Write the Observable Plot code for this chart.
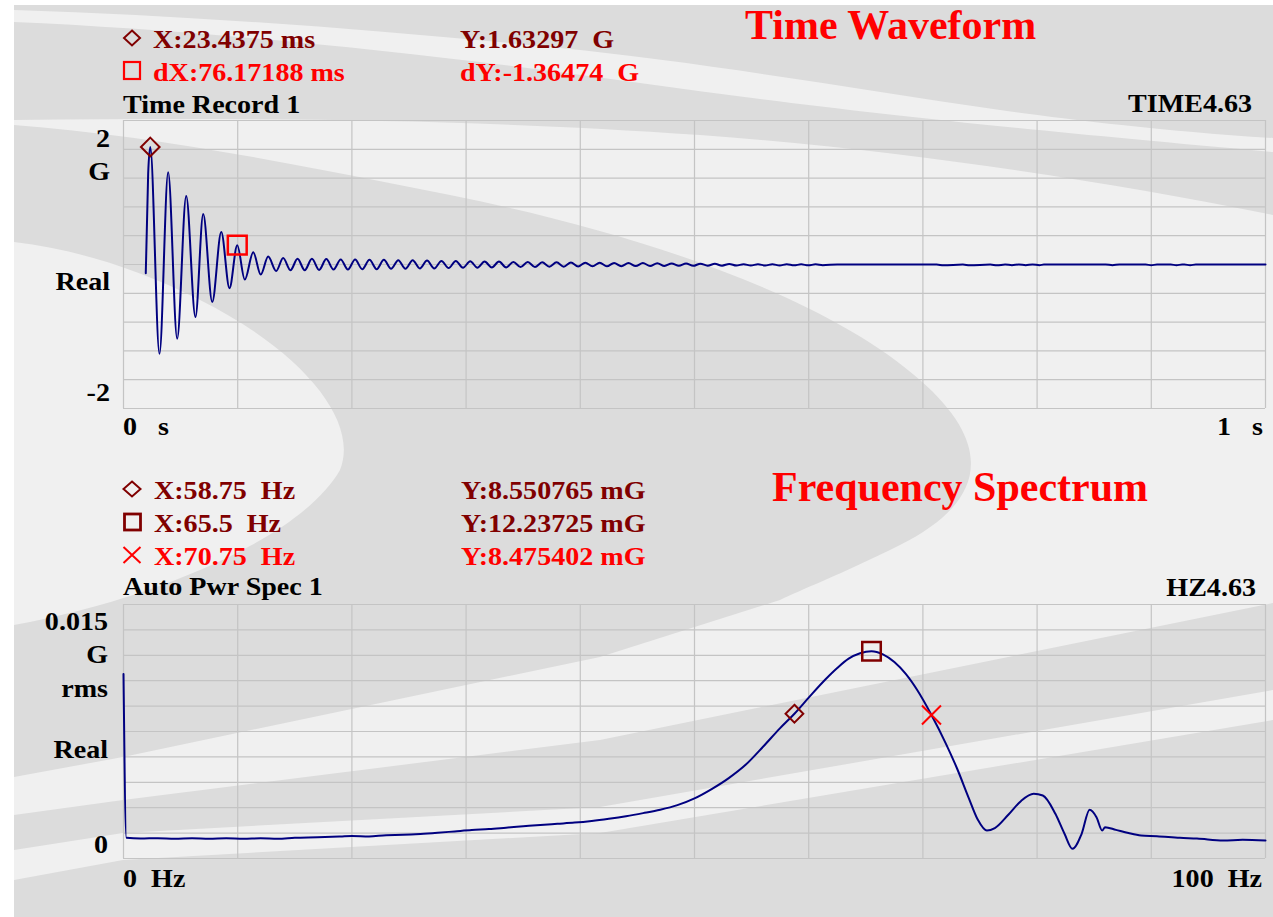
<!DOCTYPE html>
<html><head><meta charset="utf-8">
<script src="https://cdn.jsdelivr.net/npm/d3@7"></script>
<script src="https://cdn.jsdelivr.net/npm/@observablehq/plot@0.6"></script>
<style>
html,body{margin:0;padding:0;background:#fff;overflow:hidden;}
#root{position:relative;width:1273px;height:917px;overflow:hidden;}
#root > svg{position:absolute;left:0;}
</style></head><body><div id="root"></div>
<script>
// ---------------- DATA ----------------
// Time waveform (extrema): time in ms, acceleration in G
const waveTimeMs = [19.5, 21.6, 23.44, 31.5, 39.1, 47.0, 54.9, 63.0, 69.8, 77.7, 85.6, 92.8, 99.61, 106.2, 113.6, 120.2, 126.7, 133.7, 139.8, 146.2,
  152.4, 158.7, 165.0, 171.3, 177.6, 183.9, 190.2, 196.5, 202.8, 209.1, 215.4, 221.7, 228.0, 234.3, 240.6, 246.9, 253.2, 259.5, 265.8, 272.1,
  278.4, 284.7, 291.0, 297.3, 303.6, 309.9, 316.2, 322.5, 328.8, 335.1, 341.4, 347.7, 354.0, 360.3, 366.6, 372.9, 379.2, 385.5, 391.8, 398.1,
  404.4, 410.7, 417.0, 423.3, 429.6, 435.9, 442.2, 448.5, 454.8, 461.1, 467.4, 473.7, 480.0, 486.3, 492.6, 498.9, 505.2, 511.5, 517.8, 524.1,
  530.4, 536.7, 543.0, 549.3, 555.6, 561.9, 568.2, 574.5, 580.8, 587.1, 593.4, 599.7, 606.0, 612.3, 625, 640, 712, 718, 735, 741, 759, 765,
  772, 778, 784, 790, 796, 802, 806, 812, 860, 866, 872, 895, 900, 905, 917, 922, 927, 929, 934, 939, 1000];
const waveValueG = [-0.12, 1.26, 1.633, -1.24, 1.28, -1.03, 0.95, -0.73, 0.70, -0.52, 0.45, -0.33, 0.268, -0.21, 0.17, -0.14, 0.11, -0.09, 0.09, -0.08,
  0.08, -0.08, 0.08, -0.075, 0.075, -0.07, 0.07, -0.07, 0.07, -0.065, 0.065, -0.065, 0.065, -0.06, 0.06, -0.06, 0.06, -0.055, 0.055, -0.055,
  0.05, -0.05, 0.05, -0.045, 0.045, -0.045, 0.04, -0.04, 0.04, -0.04, 0.035, -0.035, 0.035, -0.035, 0.03, -0.03, 0.03, -0.03, 0.028, -0.028,
  0.026, -0.026, 0.025, -0.025, 0.022, -0.024, 0.02, -0.022, 0.02, -0.02, 0.018, -0.02, 0.015, -0.018, 0.014, -0.018, 0.012, -0.016, 0.01, -0.016,
  0.008, -0.015, 0.005, -0.015, 0.004, -0.014, 0.003, -0.014, 0.003, -0.012, 0.002, -0.012, 0.002, -0.01, 0, 0, 0, -0.012, 0, -0.012, 0, -0.012,
  0, -0.01, 0, -0.01, 0, -0.01, 0, 0, 0, -0.01, 0, 0, -0.01, 0, 0, -0.01, 0, 0, -0.01, 0, 0];
// Markers of the time record
const waveMarkerT = [23.4375, 99.60938];
const waveMarkerV = [1.63297, 0.26823];

// Frequency spectrum: Hz, mG rms
const specHz = [0, 0.25, 1.5, 3, 4.5, 6, 7.5, 9, 10.5, 12, 13.5, 15, 17, 19, 20, 21.5, 23, 24.5, 26, 27.5, 29, 30.5, 32, 33.5, 35, 36.5, 38, 39.5,
  41, 42.5, 44, 45.5, 47, 48.5, 50, 51.5, 53, 54.5, 56, 57.5, 58.75, 60, 61.5, 62.5, 63.5, 64.5, 65.5, 66.5, 67.5, 68.5, 69.5, 70.75, 72, 73, 74,
  74.8, 75.6, 76.3, 77.5, 78.6, 79.7, 80.5, 81.6, 82.4, 83.1, 83.9, 84.6, 85.2, 85.7, 85.95, 86.9, 88, 89.1, 90.5, 92.5, 94, 96.3, 98, 100];
const specMG = [10.9, 1.22, 1.18, 1.2, 1.16, 1.19, 1.17, 1.2, 1.17, 1.19, 1.16, 1.22, 1.25, 1.3, 1.33, 1.3, 1.38, 1.4, 1.45, 1.52, 1.6, 1.68, 1.74, 1.82,
  1.9, 1.98, 2.05, 2.12, 2.22, 2.35, 2.5, 2.68, 2.88, 3.15, 3.55, 4.1, 4.75, 5.55, 6.6, 7.7, 8.55, 9.5, 10.6, 11.25, 11.8, 12.12, 12.237, 12.05, 11.6,
  10.9, 9.95, 8.475, 6.8, 5.3, 3.6, 2.3, 1.65, 1.8, 2.6, 3.4, 3.82, 3.72, 2.64, 1.46, 0.57, 1.46, 2.88, 2.44, 1.65, 1.85, 1.69, 1.5, 1.36, 1.32,
  1.22, 1.18, 1.06, 1.1, 1.06];
// Spectrum markers (diamond, square, cross)
const specMarkerHz = [58.75, 65.5, 70.75];
const specMarkerMG = [8.550765, 12.23725, 8.475402];

// Texts
const waveHeaderLeft = ["X:23.4375 ms", "dX:76.17188 ms"];
const waveHeaderRight = ["Y:1.63297  G", "dY:-1.36474  G"];
const specHeaderLeft = ["X:58.75  Hz", "X:65.5  Hz", "X:70.75  Hz"];
const specHeaderRight = ["Y:8.550765 mG", "Y:12.23725 mG", "Y:8.475402 mG"];
const titles = ["Time Waveform", "Frequency Spectrum"];
const panelNames = ["Time Record 1", "Auto Pwr Spec 1"];
const panelIds = ["TIME4.63", "HZ4.63"];
const waveYLabels = ["2", "G", "Real", "-2"];
const specYLabels = ["0.015", "G", "rms", "Real", "0"];
const waveXLabels = ["0   s", "1   s"];
const specXLabels = ["0  Hz", "100  Hz"];

// grid ticks
const timeGrid = [0, 100, 200, 300, 400, 500, 600, 700, 800, 900, 1000];
const ampGrid = [-2, -1.6, -1.2, -0.8, -0.4, 0, 0.4, 0.8, 1.2, 1.6, 2];
const freqGrid = [0, 10, 20, 30, 40, 50, 60, 70, 80, 90, 100];
const magGrid = [0, 1.5, 3, 4.5, 6, 7.5, 9, 10.5, 12, 13.5, 15];

// ---------------- STYLE ----------------
const DARK = "#800000", RED = "#ff0000", NAVY = "#000080", GRID = "#c4c4c4";
const LIGHT_BG = "#f0f0f0", DARK_BG = "#dcdcdc";
const FONT = "'Liberation Serif','Times New Roman',serif";
const W = 1273, H = 917;
const root = document.getElementById("root");

// ---------------- BACKGROUND (decoration) ----------------
const bg = d3.select(root).append("svg").attr("width", W).attr("height", H).style("top", "0px");
bg.append("rect").attr("x", 14).attr("y", 5).attr("width", W - 14).attr("height", H - 5).attr("fill", LIGHT_BG);
const bgShapes = [
  // header gray
  "M14,5 H1273 V138 C1150,130 1060,118 1000,110 C850,88 700,62 560,48 C380,30 200,16 14,10 Z",
  // gray stripe under light band
  "M14,22 C200,30 420,52 640,83 C820,108 980,126 1273,152 V215 C1100,180 900,150 700,135 C450,118 250,118 14,120 Z",
  // big crescent ribbon
  "M14,125 C150,135 300,165 450,195 C650,235 830,300 920,380 C1000,450 980,505 900,545 C840,575 800,590 780,600 L600,657 L123,757 L14,777 V625 C150,600 300,540 340,470 C360,420 300,350 200,300 C140,270 80,250 14,242 Z",
  // lower diagonal gray band
  "M14,815 L123,800 L600,740 L1273,603 V690 L600,807 L123,833 L14,850 Z",
  // bottom gray
  "M14,880 L123,860 L600,833 L1273,720 V917 H14 Z"
];
bg.selectAll("path.bgs").data(bgShapes).join("path").attr("d", d => d).attr("fill", DARK_BG);

// ---------------- PLOTS ----------------
const wave = waveTimeMs.map((t, i) => ({t, v: waveValueG[i]}));
const waveMarks = waveMarkerT.map((t, i) => ({t, v: waveMarkerV[i]}));
const spec = specHz.map((f, i) => ({f, m: specMG[i]}));
const specMarks = specMarkerHz.map((f, i) => ({f, m: specMarkerMG[i]}));

const p1 = Plot.plot({
  width: W, height: 460, marginLeft: 123, marginRight: 8, marginTop: 120, marginBottom: 52,
  style: {background: "transparent", overflow: "visible"},
  x: {domain: [0, 1000], axis: null},
  y: {domain: [-2, 2], axis: null},
  marks: [
    Plot.ruleX(timeGrid, {stroke: GRID, strokeWidth: 1.2}),
    Plot.ruleY(ampGrid, {stroke: GRID, strokeWidth: 1.2}),
    Plot.line(wave, {x: "t", y: "v", stroke: NAVY, strokeWidth: 2, curve: "monotone-x"}),
    Plot.dot(waveMarks.slice(0, 1), {x: "t", y: "v", symbol: "diamond2", r: 8.4, stroke: DARK, strokeWidth: 2, fill: "none"}),
    Plot.dot(waveMarks.slice(1), {x: "t", y: "v", symbol: "square2", r: 12, stroke: RED, strokeWidth: 2.5, fill: "none"})
  ]
});
p1.style.position = "absolute"; p1.style.top = "0px"; p1.style.left = "0px";
root.appendChild(p1);

const p2 = Plot.plot({
  width: W, height: 457, marginLeft: 123, marginRight: 8, marginTop: 144, marginBottom: 59,
  style: {background: "transparent", overflow: "visible"},
  x: {domain: [0, 100], axis: null},
  y: {domain: [0, 15], axis: null},
  marks: [
    Plot.ruleX(freqGrid, {stroke: GRID, strokeWidth: 1.2}),
    Plot.ruleY(magGrid, {stroke: GRID, strokeWidth: 1.2}),
    Plot.line(spec, {x: "f", y: "m", stroke: NAVY, strokeWidth: 2, curve: "monotone-x"}),
    Plot.dot(specMarks.slice(0, 1), {x: "f", y: "m", symbol: "diamond2", r: 8, stroke: DARK, strokeWidth: 2, fill: "none"}),
    Plot.dot(specMarks.slice(1, 2), {x: "f", y: "m", symbol: "square2", r: 11.8, stroke: DARK, strokeWidth: 2.5, fill: "none"}),
    Plot.dot(specMarks.slice(2), {x: "f", y: "m", symbol: "times", r: 8.7, stroke: RED, strokeWidth: 2, fill: "none"})
  ]
});
p2.style.position = "absolute"; p2.style.top = "460px"; p2.style.left = "0px";
root.appendChild(p2);

// ---------------- TEXT OVERLAY ----------------
const ov = d3.select(root).append("svg").attr("width", W).attr("height", H).style("top", "0px").style("pointer-events", "none");
function txt(s, x, y, opts = {}) {
  const size = opts.size || 26, sx = opts.sx == null ? 1.08 : opts.sx;
  ov.append("text").attr("transform", `translate(${x},${y}) scale(${sx},1)`)
    .attr("text-anchor", opts.anchor || "start")
    .attr("font-family", FONT).attr("font-weight", "bold").attr("font-size", size)
    .attr("fill", opts.color || "#000").style("white-space", "pre").text(s);
}
// header symbols
function diamond(cx, cy, hw, hh, color) {
  ov.append("path").attr("d", `M${cx},${cy - hh}L${cx + hw},${cy}L${cx},${cy + hh}L${cx - hw},${cy}Z`)
    .attr("fill", "none").attr("stroke", color).attr("stroke-width", 2);
}
function square(x0, y0, w, h, color, sw) {
  ov.append("rect").attr("x", x0).attr("y", y0).attr("width", w).attr("height", h)
    .attr("fill", "none").attr("stroke", color).attr("stroke-width", sw);
}
function cross(cx, cy, hw, hh, color) {
  ov.append("path").attr("d", `M${cx - hw},${cy - hh}L${cx + hw},${cy + hh}M${cx + hw},${cy - hh}L${cx - hw},${cy + hh}`)
    .attr("stroke", color).attr("stroke-width", 2);
}

// Top panel texts
diamond(132, 38, 8, 7.5, DARK);
square(124, 62, 16, 17, RED, 2.2);
txt(waveHeaderLeft[0], 153, 48, {color: DARK});
txt(waveHeaderLeft[1], 153, 81, {color: RED});
txt(waveHeaderRight[0], 460, 48, {color: DARK});
txt(waveHeaderRight[1], 460, 81, {color: RED});
txt(titles[0], 745, 39, {size: 42, sx: 1, color: RED});
txt(panelNames[0], 123, 113);
txt(panelIds[0], 1252, 112, {anchor: "end"});
[147, 180, 290, 401].forEach((b, i) => txt(waveYLabels[i], 110, b, {anchor: "end"}));
txt(waveXLabels[0], 123, 435);
txt(waveXLabels[1], 1263, 435, {anchor: "end"});

// Spectrum panel texts
diamond(132, 489, 8.5, 7.5, DARK);
square(124.5, 514, 16, 16, DARK, 2.8);
cross(132, 555, 8.5, 8, RED);
const specRowY = [499, 532, 565], specRowC = [DARK, DARK, RED];
specRowY.forEach((y, i) => {
  txt(specHeaderLeft[i], 154, y, {color: specRowC[i]});
  txt(specHeaderRight[i], 461, y, {color: specRowC[i]});
});
txt(titles[1], 772, 501, {size: 42, sx: 1, color: RED});
txt(panelNames[1], 123, 595);
txt(panelIds[1], 1256, 596, {anchor: "end"});
[630, 663, 697, 758, 853].forEach((b, i) => txt(specYLabels[i], 108, b, {anchor: "end"}));
txt(specXLabels[0], 123, 887);
txt(specXLabels[1], 1262, 887, {anchor: "end"});
</script></body></html>
